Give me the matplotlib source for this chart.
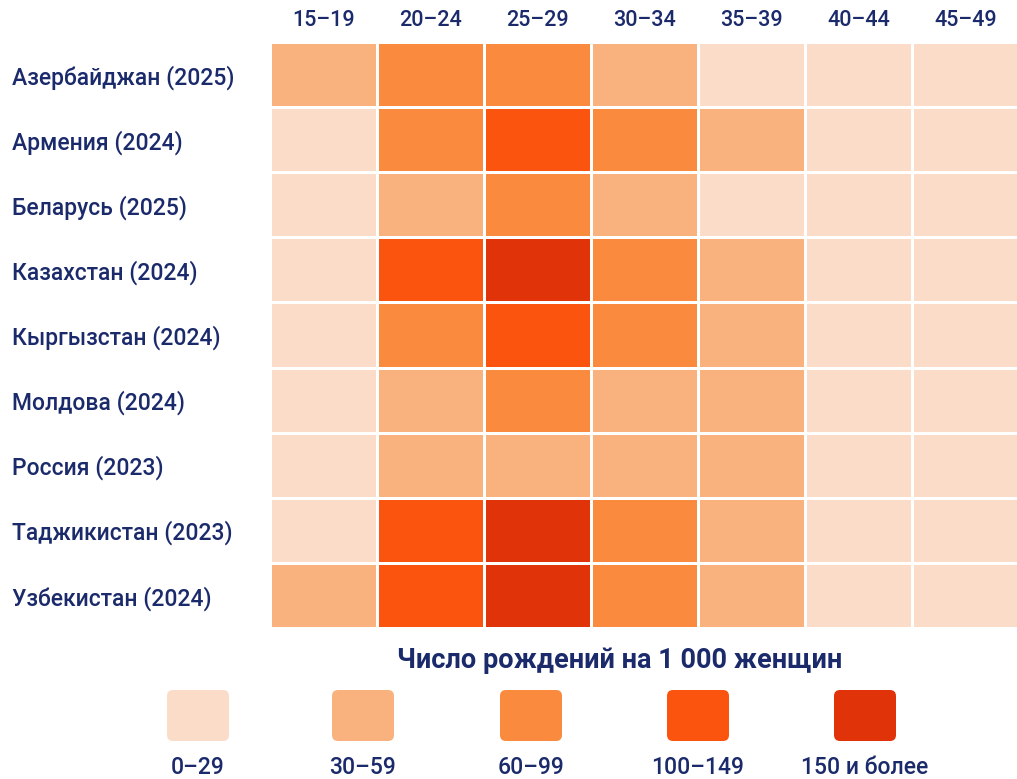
import matplotlib
matplotlib.use("Agg")
import matplotlib.pyplot as plt
import numpy as np
from matplotlib.colors import ListedColormap, BoundaryNorm
from matplotlib.patches import FancyBboxPatch

# ---- data (category index: 0=0–29, 1=30–59, 2=60–99, 3=100–149, 4=150 и более)
age_groups = ["15–19", "20–24", "25–29", "30–34", "35–39", "40–44", "45–49"]
countries = ["Азербайджан (2025)", "Армения (2024)", "Беларусь (2025)",
             "Казахстан (2024)", "Кыргызстан (2024)", "Молдова (2024)",
             "Россия (2023)", "Таджикистан (2023)", "Узбекистан (2024)"]
azerbaijan = [1, 2, 2, 1, 0, 0, 0]
armenia    = [0, 2, 3, 2, 1, 0, 0]
belarus    = [0, 1, 2, 1, 0, 0, 0]
kazakhstan = [0, 3, 4, 2, 1, 0, 0]
kyrgyzstan = [0, 2, 3, 2, 1, 0, 0]
moldova    = [0, 1, 2, 1, 1, 0, 0]
russia     = [0, 1, 1, 1, 1, 0, 0]
tajikistan = [0, 3, 4, 2, 1, 0, 0]
uzbekistan = [1, 3, 4, 2, 1, 0, 0]
bin_labels = ["0–29", "30–59", "60–99", "100–149", "150 и более"]
bin_colors = ["#FADCC9", "#F9B27E", "#FA8A3D", "#FB540F", "#E0330A"]
legend_title = "Число рождений на 1 000 женщин"

TEXT = "#1B2A6B"
plt.rcParams["font.family"] = ["Roboto", "DejaVu Sans"]

W, H = 1017, 779
fig = plt.figure(figsize=(W / 100, H / 100), dpi=100)
fig.patch.set_facecolor("white")

grid = np.array([azerbaijan, armenia, belarus, kazakhstan, kyrgyzstan,
                 moldova, russia, tajikistan, uzbekistan])

x0, x1, y0, y1 = 270, 1019, 42, 628
ax = fig.add_axes([x0 / W, 1 - y1 / H, (x1 - x0) / W, (y1 - y0) / H])
cmap = ListedColormap(bin_colors)
norm = BoundaryNorm(np.arange(-0.5, len(bin_colors) + 0.5, 1), cmap.N)
ax.pcolormesh(grid, cmap=cmap, norm=norm, edgecolors="white", linewidth=2.0)
ax.set_xlim(0, len(age_groups))
ax.set_ylim(len(countries), 0)
for s in ax.spines.values():
    s.set_visible(False)

ax.xaxis.tick_top()
ax.set_xticks(np.arange(len(age_groups)) + 0.5)
ax.set_xticklabels(age_groups, fontsize=15.5, color=TEXT, fontweight="medium")
ax.tick_params(axis="x", length=0, pad=8)

ax.set_yticks(np.arange(len(countries)) + 0.5)
ax.set_yticklabels(countries, fontsize=16.5, color=TEXT, ha="left",
                   fontweight="medium")
ax.tick_params(axis="y", length=0, pad=(x0 - 12) * 72 / 100)

# ---- legend
lax = fig.add_axes([0, 0, 1, 140 / H])
lax.set_xlim(0, W)
lax.set_ylim(0, 140)
lax.axis("off")
lax.text(620, H - 661, legend_title, ha="center", va="center",
         fontsize=19.5, fontweight="bold", color=TEXT)
centers = [198, 363, 531, 698, 865]
sw, sh = 62, 51
for cx, col, lab in zip(centers, bin_colors, bin_labels):
    p = FancyBboxPatch((cx - sw / 2 + 4, H - 741 + 4), sw - 8, sh - 8,
                       boxstyle="round,pad=4,rounding_size=6",
                       facecolor=col, edgecolor="none")
    lax.add_patch(p)
    lax.text(cx, H - 767, lab, ha="center", va="center", fontsize=16.5,
             color=TEXT, fontweight="medium")

fig.savefig("out.png", dpi=100, facecolor="white")
